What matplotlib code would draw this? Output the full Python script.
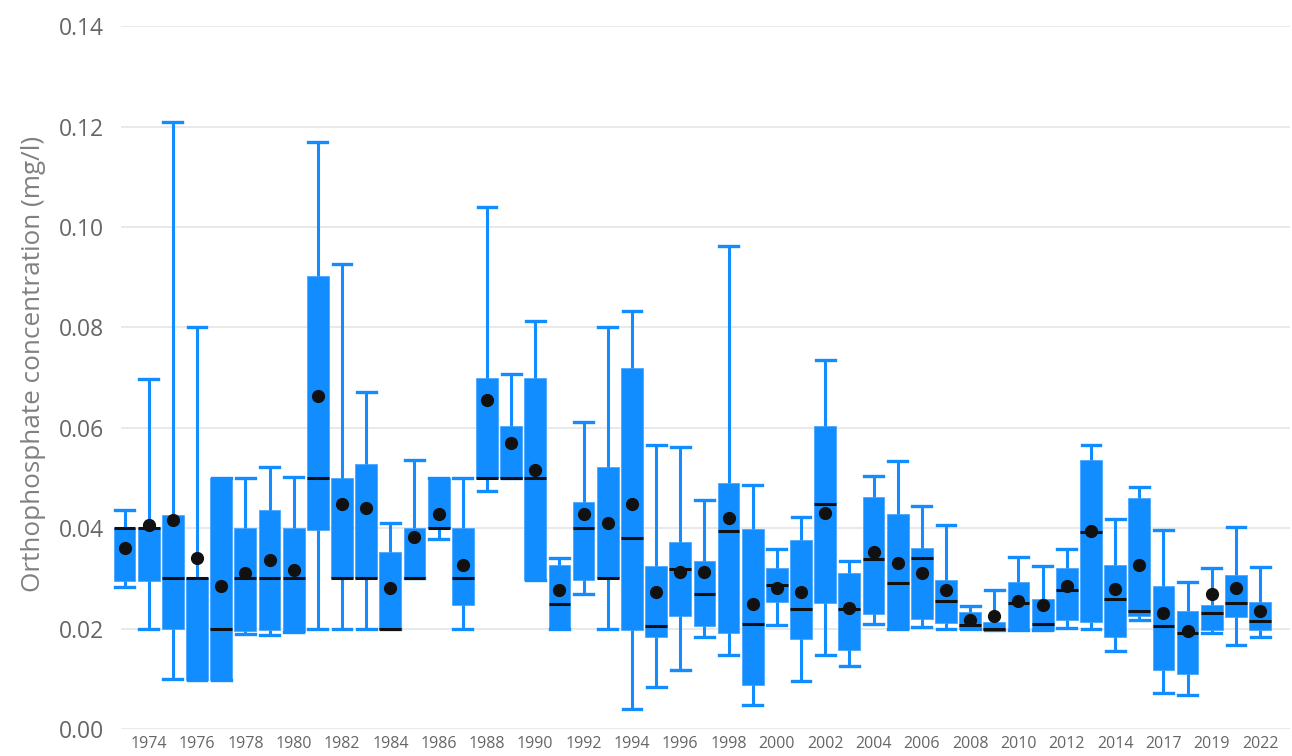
import matplotlib
matplotlib.use("Agg")
import matplotlib.pyplot as plt

plt.rcParams['font.family'] = ['Open Sans', 'DejaVu Sans']

years = list(range(1973, 2015)) + [2016, 2017, 2018, 2019, 2020, 2022]

# box plot statistics per year (mg/l)
whis_lo = [0.0282, 0.020, 0.010, 0.0097, 0.0097, 0.019, 0.0187, 0.0193, 0.020, 0.020,
           0.020, 0.020, 0.030, 0.0378, 0.020, 0.0475, 0.050, 0.0297, 0.020, 0.0268,
           0.020, 0.0039, 0.0084, 0.0118, 0.0184, 0.0147, 0.0047, 0.0207, 0.0096, 0.0147,
           0.0126, 0.0209, 0.020, 0.0203, 0.0199, 0.020, 0.0197, 0.0197, 0.0197, 0.0201,
           0.0199, 0.0155, 0.0218, 0.0072, 0.0067, 0.0191, 0.0168, 0.0183]
q1 = [0.0295, 0.0295, 0.020, 0.0097, 0.0097, 0.0195, 0.0197, 0.0193, 0.0396, 0.030,
      0.030, 0.020, 0.030, 0.040, 0.0248, 0.050, 0.050, 0.0297, 0.020, 0.0296,
      0.030, 0.0197, 0.0184, 0.0226, 0.0205, 0.0191, 0.0087, 0.0254, 0.0179, 0.0251,
      0.0158, 0.0229, 0.020, 0.0219, 0.0211, 0.020, 0.0197, 0.0197, 0.0197, 0.0218,
      0.0213, 0.0183, 0.0226, 0.0117, 0.011, 0.0197, 0.0223, 0.0197]
median = [0.040, 0.040, 0.030, 0.030, 0.020, 0.030, 0.030, 0.030, 0.050, 0.030,
          0.030, 0.020, 0.030, 0.040, 0.030, 0.050, 0.050, 0.050, 0.025, 0.040,
          0.030, 0.038, 0.0205, 0.0318, 0.0269, 0.0394, 0.0209, 0.0286, 0.0239, 0.0449,
          0.024, 0.0339, 0.029, 0.034, 0.0255, 0.0207, 0.020, 0.0252, 0.0209, 0.0276,
          0.0392, 0.0258, 0.0236, 0.0205, 0.0192, 0.0232, 0.0252, 0.0215]
q3 = [0.040, 0.040, 0.0427, 0.030, 0.050, 0.040, 0.0437, 0.040, 0.0902, 0.050,
      0.0528, 0.0352, 0.040, 0.050, 0.040, 0.070, 0.0603, 0.070, 0.0327, 0.0453,
      0.0522, 0.0719, 0.0325, 0.0372, 0.0335, 0.049, 0.0398, 0.0321, 0.0377, 0.0603,
      0.0311, 0.0463, 0.0429, 0.036, 0.0296, 0.0234, 0.0214, 0.0292, 0.0258, 0.0321,
      0.0536, 0.0327, 0.0461, 0.0285, 0.0236, 0.0248, 0.0306, 0.0254]
whis_hi = [0.0436, 0.0697, 0.121, 0.080, 0.050, 0.050, 0.0522, 0.0503, 0.117, 0.0927,
           0.0671, 0.041, 0.0536, 0.050, 0.050, 0.104, 0.0708, 0.0812, 0.034, 0.0611,
           0.0801, 0.0833, 0.0566, 0.0561, 0.0457, 0.0963, 0.0486, 0.0359, 0.0422, 0.0735,
           0.0335, 0.0504, 0.0533, 0.0444, 0.0406, 0.0246, 0.0277, 0.0343, 0.0325, 0.0359,
           0.0566, 0.0418, 0.0483, 0.0396, 0.0292, 0.0321, 0.0402, 0.0322]
mean = [0.036, 0.0406, 0.0416, 0.0341, 0.0285, 0.031, 0.0336, 0.0317, 0.0664, 0.0449,
        0.0441, 0.0281, 0.0382, 0.0429, 0.0327, 0.0656, 0.0569, 0.0516, 0.0276, 0.0429,
        0.041, 0.0448, 0.0273, 0.0312, 0.0313, 0.042, 0.025, 0.028, 0.0272, 0.0431,
        0.0242, 0.0352, 0.0331, 0.0311, 0.0277, 0.0217, 0.0226, 0.0256, 0.0248, 0.0285,
        0.0394, 0.0278, 0.0327, 0.0231, 0.0196, 0.0269, 0.028, 0.0236]

yticks = [0.00, 0.02, 0.04, 0.06, 0.08, 0.10, 0.12, 0.14]

stats = []
for i in range(len(years)):
    stats.append(dict(whislo=whis_lo[i], q1=q1[i], med=median[i], q3=q3[i],
                      whishi=whis_hi[i], mean=mean[i], fliers=[]))

blue = '#118DFF'
fig = plt.figure(figsize=(12.92, 7.56), dpi=100)
ax = fig.add_axes([0.0875, 0.0357, 0.911, 0.9296])

pos = list(range(len(years)))
ax.bxp(stats, positions=pos, widths=0.9, capwidths=0.78, patch_artist=True,
       showmeans=True, showfliers=False,
       boxprops=dict(facecolor=blue, edgecolor='#4aa8ff', linewidth=0.6),
       whiskerprops=dict(color=blue, linewidth=2.2, solid_capstyle='butt'),
       capprops=dict(color=blue, linewidth=2.4),
       medianprops=dict(color='#111111', linewidth=2.2, solid_capstyle='butt'),
       meanprops=dict(marker='o', markerfacecolor='#111111', markeredgecolor='#111111',
                      markersize=8.5),
       zorder=3)

ax.set_xlim(-0.476, 48.24)
ax.set_ylim(0, 0.14)
ax.hlines(yticks, -0.145, 48.24, color='#e3e3e3', linewidth=1.1, zorder=1)

ax.set_yticks(yticks)
ax.set_yticklabels([f"{t:.2f}" for t in yticks], fontsize=16.5, color='#666666')
ax.set_xticks(pos[1::2])
ax.set_xticklabels([str(y) for y in years[1::2]], fontsize=11.5, color='#666666')
ax.tick_params(axis='both', length=0)
ax.tick_params(axis='y', pad=6.5)
ax.tick_params(axis='x', pad=5)
for s in ax.spines.values():
    s.set_visible(False)

ax.set_ylabel("Orthophosphate concentration (mg/l)", fontsize=18.8, color='#808080', labelpad=9)
ax.yaxis.label.set_y(0.52)

fig.savefig("out.png", dpi=100)
